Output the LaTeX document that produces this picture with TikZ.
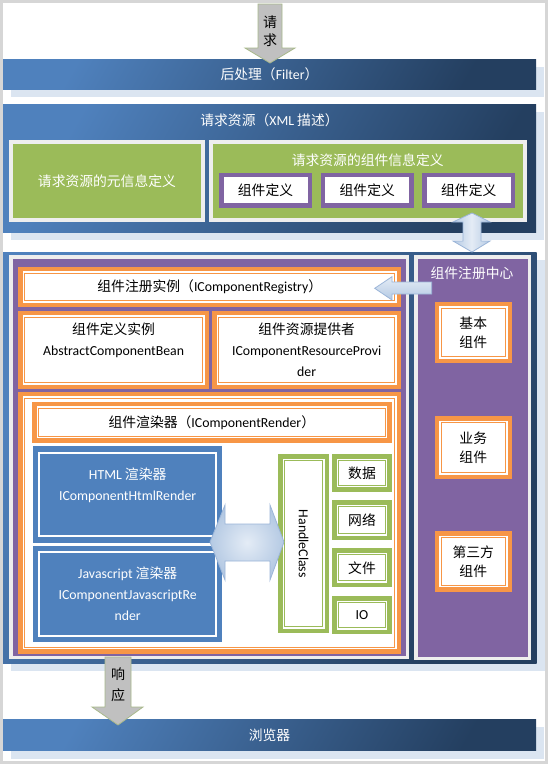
\documentclass[tikz,border=0pt]{standalone}
\usepackage{fontspec}
\setmainfont{Noto Sans CJK SC}
\newfontfamily\latfont{Carlito}
\newcommand{\lat}[1]{{\latfont #1}}
\usetikzlibrary{positioning,shadows}

\definecolor{frameGray}{HTML}{D6D6D6}
\definecolor{blueL}{HTML}{4F81BD}
\definecolor{blueD}{HTML}{243F60}
\definecolor{blueC}{HTML}{4F81BD}
\definecolor{shadowB}{HTML}{DBE5F1}
\definecolor{greenC}{HTML}{9BBB59}
\definecolor{purpleC}{HTML}{8064A2}
\definecolor{orangeC}{HTML}{F79646}
\definecolor{panelEdge}{HTML}{EEEEEE}
\definecolor{arrowGray}{HTML}{C0C0C0}
\definecolor{arrowEdge}{HTML}{A9B98C}
\definecolor{arrowLight}{HTML}{E4ECF6}
\definecolor{arrowMid}{HTML}{B4C9E3}
\definecolor{arrowLine}{HTML}{9BB5D8}

\begin{document}
\begin{tikzpicture}[
x=1pt, y=-1pt,
font=\fontsize{13.8pt}{21pt}\selectfont,
bar/.style={rectangle, top color=blueL, bottom color=blueD, shading angle=60, text=white, inner sep=0pt, outer sep=0pt,
  drop shadow={shadow xshift=8pt, shadow yshift=-8pt, fill=shadowB, opacity=1}},
panel/.style={rectangle, fill=purpleC, draw=panelEdge, line width=3.5pt, inner sep=0pt},
gbox/.style={rectangle, fill=greenC, draw=panelEdge, line width=4pt, inner sep=0pt, text=white},
cbox/.style={rectangle, fill=white, draw=purpleC, line width=4.5pt, inner sep=0pt},
dframe/.style={rectangle, fill=white, draw=#1, line width=1pt, inner sep=0pt, align=center,
  preaction={draw=#1, line width=13pt}, preaction={draw=white, line width=4pt}},
obox/.style={dframe=orangeC},
hbox/.style={dframe=greenC},
bbox/.style={rectangle, fill=blueC, draw=white, line width=2pt, inner sep=0pt, text=white, align=center,
  preaction={draw=blueC, line width=12.6pt}},
grayarrow/.style={fill=arrowGray, draw=arrowEdge, line width=0.8pt},
bluearrow/.style={draw=arrowLine, line width=0.8pt}
]
\useasboundingbox (0,0) rectangle (548,764);
\fill[frameGray] (0,0) rectangle (548,764);
\fill[white] (3,3) rectangle (545,761);

% top and bottom bars
\node[bar, minimum width=533pt, minimum height=30pt] (filter) at (269.5,74) {后处理（\lat{Filter}）};
\node[bar, minimum width=533pt, minimum height=31.4pt] (browser) at (269.5,735) {浏览器};

% request resource (XML)
\node[bar, minimum width=533pt, minimum height=128pt] (xml) at (269.5,168) {};
\node[text=white] (xmltitle) at (269.5,120) {请求资源（\lat{XML} 描述）};
\node[gbox, minimum width=191.1pt, minimum height=78pt] (meta) at (106.95,181) {请求资源的元信息定义};
\node[gbox, minimum width=314pt, minimum height=78pt] (compinfo) at (367.7,181) {};
\node[text=white] (compinfotitle) at (367.7,160) {请求资源的组件信息定义};
\node[cbox, minimum width=88.5pt, minimum height=30.5pt] (def1) at (265.5,190.2) {组件定义};
\node[cbox, minimum width=88.5pt, minimum height=30.5pt] (def2) at (367.25,190.2) {组件定义};
\node[cbox, minimum width=88.5pt, minimum height=30.5pt] (def3) at (468.75,190.2) {组件定义};

% main area
\node[bar, minimum width=533.7pt, minimum height=411pt] (main) at (269.85,457.5) {};
\node[panel, minimum width=396.5pt, minimum height=400.5pt] (core) at (209,457) {};
\node[panel, minimum width=113.5pt, minimum height=401.5pt] (center) at (472.5,457.5) {};
\node[text=white] (centertitle) at (472,273) {组件注册中心};

\node[obox, minimum width=370.1pt, minimum height=27.6pt] (registry) at (209.75,287) {组件注册实例（\lat{IComponentRegistry}）};
\node[obox, minimum width=177.8pt, minimum height=65.3pt] (bean) at (113.6,349.85) {组件定义实例\\\lat{AbstractComponentBean}\\\mbox{}};
\node[obox, minimum width=176.3pt, minimum height=65.3pt] (provider) at (306.65,349.85) {组件资源提供者\\\lat{IComponentResourceProvi}\\\lat{der}};
\node[obox, minimum width=370.3pt, minimum height=248.8pt] (render) at (209.65,522.6) {};
\node[obox, minimum width=346.7pt, minimum height=28pt] (rendertitle) at (211.85,422.2) {组件渲染器（\lat{IComponentRender}）};

\node[bbox, minimum width=176.7pt, minimum height=83.6pt] (html) at (127.65,494.5) {\lat{HTML} 渲染器\\\lat{IComponentHtmlRender}\\\mbox{}};
\node[bbox, minimum width=176.7pt, minimum height=84pt] (js) at (127.65,594) {\lat{Javascript} 渲染器\\\lat{IComponentJavascriptRe}\\\lat{nder}};

\node[hbox, rotate=-90, minimum width=166pt, minimum height=37.7pt] (handle) at (303.65,543.8) {\lat{HandleClass}};
\node[hbox, minimum width=46.4pt, minimum height=24.4pt] (data) at (362,473) {数据};
\node[hbox, minimum width=46.4pt, minimum height=27pt] (net) at (362,520) {网络};
\node[hbox, minimum width=46.4pt, minimum height=26pt] (file) at (362,567.8) {文件};
\node[hbox, minimum width=46.4pt, minimum height=25pt] (io) at (362,615) {\lat{IO}};

\node[obox, minimum width=64.5pt, minimum height=48.6pt] (basic) at (473.25,332.5) {基本\\[-2pt]组件};
\node[obox, minimum width=64.5pt, minimum height=50pt] (business) at (473.25,447.5) {业务\\[-2pt]组件};
\node[obox, minimum width=64.5pt, minimum height=47.7pt] (third) at (473.25,561.35) {第三方\\[-2pt]组件};

% block arrows
\draw[grayarrow] (258,4) -- (282,4) -- (282,48) -- (295,48) -- (270,63) -- (245,48) -- (258,48) -- cycle;
\node[align=center, font=\fontsize{14pt}{18pt}\selectfont] (request) at (270,31) {请\\求};
\draw[grayarrow] (105,657) -- (131,657) -- (131,707) -- (143,707) -- (118,725) -- (92,707) -- (105,707) -- cycle;
\node[align=center, font=\fontsize{14pt}{21pt}\selectfont] (response) at (118,684.5) {响\\应};

\draw[bluearrow, left color=arrowMid, right color=arrowMid, middle color=arrowLight]
  (472,213) -- (490,222) -- (481,222) -- (481,241) -- (490,241) -- (472,252)
  -- (453,241) -- (463,241) -- (463,222) -- (453,222) -- cycle;
\draw[bluearrow, top color=arrowLight, bottom color=arrowMid]
  (374.7,288.3) -- (392,276.7) -- (392,282) -- (431.7,282) -- (431.7,294) -- (392,294) -- (392,300) -- cycle;
\draw[bluearrow, inner color=arrowLight, outer color=arrowMid]
  (210,542) -- (225,505) -- (225,524) -- (270,524) -- (270,505) -- (284,542)
  -- (270,580) -- (270,561) -- (225,561) -- (225,580) -- cycle;
\end{tikzpicture}
\end{document}
